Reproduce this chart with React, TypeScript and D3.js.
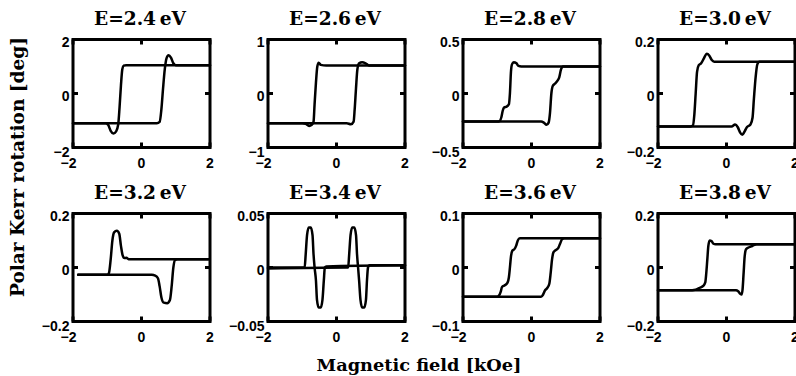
import React from 'react';
import * as d3 from 'd3';

// photon energies of the eight panels (row by row)
const energies = ["2.4", "2.6", "2.8", "3.0", "3.2", "3.4", "3.6", "3.8"];
// y axis limit (symmetric) for each panel
const yLimits = [2, 1, 0.5, 0.2, 0.2, 0.05, 0.1, 0.2];
const xTicks = [-2, 0, 2];

// each loop: branch swept from +2 down to -2 ("down") and from -2 up to +2 ("up")
// points are [field kOe, rotation deg], sorted by field
const e24Down = [[-2, -1.1], [-1.05, -1.1], [-0.97, -1.17], [-0.9, -1.38], [-0.82, -1.48], [-0.74, -1.4], [-0.68, -1.15], [-0.64, -0.5], [-0.6, 0.3], [-0.56, 0.9], [-0.52, 1.03], [-0.45, 1.05], [2, 1.05]];
const e24Up = [[-2, -1.1], [0.45, -1.1], [0.53, -1.05], [0.58, -0.6], [0.63, 0.2], [0.68, 0.9], [0.73, 1.3], [0.79, 1.42], [0.86, 1.33], [0.93, 1.12], [1.0, 1.05], [2, 1.05]];

const e26Down = [[-2, -0.55], [-1.0, -0.55], [-0.9, -0.56], [-0.8, -0.6], [-0.72, -0.58], [-0.67, -0.52], [-0.64, -0.2], [-0.6, 0.2], [-0.56, 0.5], [-0.52, 0.57], [-0.46, 0.53], [-0.3, 0.52], [2, 0.52]];
const e26Up = [[-2, -0.55], [0.3, -0.55], [0.42, -0.57], [0.5, -0.52], [0.53, -0.3], [0.57, 0.1], [0.61, 0.45], [0.66, 0.56], [0.75, 0.58], [0.85, 0.56], [0.95, 0.52], [2, 0.52]];

const e28Down = [[-2, -0.26], [-1.0, -0.26], [-0.93, -0.255], [-0.88, -0.22], [-0.84, -0.16], [-0.8, -0.13], [-0.72, -0.12], [-0.66, -0.1], [-0.63, 0.0], [-0.6, 0.2], [-0.57, 0.27], [-0.52, 0.29], [-0.44, 0.28], [-0.38, 0.255], [-0.3, 0.25], [2, 0.25]];
const e28Up = [[-2, -0.26], [0.28, -0.26], [0.36, -0.27], [0.44, -0.29], [0.5, -0.27], [0.54, -0.18], [0.58, 0.0], [0.62, 0.07], [0.68, 0.09], [0.76, 0.12], [0.81, 0.15], [0.86, 0.22], [0.92, 0.25], [2, 0.25]];

const e30Down = [[-2, -0.122], [-1.05, -0.122], [-0.98, -0.118], [-0.94, -0.08], [-0.9, 0.0], [-0.86, 0.08], [-0.81, 0.105], [-0.74, 0.112], [-0.66, 0.13], [-0.58, 0.147], [-0.5, 0.14], [-0.43, 0.124], [-0.36, 0.118], [2, 0.118]];
const e30Up = [[-2, -0.122], [0.15, -0.122], [0.25, -0.115], [0.33, -0.125], [0.4, -0.145], [0.46, -0.153], [0.53, -0.14], [0.6, -0.124], [0.7, -0.115], [0.76, -0.09], [0.8, -0.02], [0.85, 0.06], [0.9, 0.108], [0.96, 0.118], [2, 0.118]];

const e32Down = [[-1.85, -0.027], [-1.0, -0.027], [-0.95, -0.02], [-0.9, 0.03], [-0.85, 0.1], [-0.8, 0.13], [-0.72, 0.136], [-0.65, 0.125], [-0.6, 0.08], [-0.55, 0.045], [-0.5, 0.035], [-0.44, 0.036], [-0.38, 0.031], [1.95, 0.031]];
const e32Up = [[-1.85, -0.027], [0.3, -0.027], [0.4, -0.03], [0.48, -0.04], [0.53, -0.07], [0.58, -0.11], [0.65, -0.13], [0.75, -0.132], [0.83, -0.12], [0.88, -0.07], [0.93, 0.0], [0.98, 0.028], [1.05, 0.031], [1.95, 0.031]];

const e34Down = [[-2, 0.0], [-1.0, 0.0], [-0.93, 0.0], [-0.9, 0.012], [-0.86, 0.03], [-0.81, 0.037], [-0.75, 0.037], [-0.7, 0.03], [-0.67, 0.012], [-0.64, 0.0], [-0.6, -0.012], [-0.57, -0.03], [-0.52, -0.037], [-0.46, -0.037], [-0.41, -0.03], [-0.37, -0.012], [-0.34, 0.0], [-0.3, 0.001], [2, 0.002]];
const e34Up = [[-2, -0.001], [0.3, 0.0], [0.34, 0.0], [0.37, 0.012], [0.41, 0.03], [0.46, 0.037], [0.52, 0.037], [0.57, 0.03], [0.6, 0.012], [0.63, 0.0], [0.66, -0.012], [0.7, -0.03], [0.75, -0.037], [0.81, -0.037], [0.86, -0.03], [0.89, -0.012], [0.92, 0.0], [0.96, 0.002], [2, 0.002]];

const e36Down = [[-2, -0.054], [-1.0, -0.054], [-0.95, -0.052], [-0.9, -0.045], [-0.86, -0.036], [-0.78, -0.033], [-0.7, -0.028], [-0.66, -0.018], [-0.63, 0.0], [-0.6, 0.02], [-0.56, 0.031], [-0.5, 0.034], [-0.45, 0.04], [-0.4, 0.05], [-0.34, 0.054], [2, 0.054]];
const e36Up = [[-2, -0.054], [0.28, -0.054], [0.34, -0.05], [0.39, -0.043], [0.46, -0.038], [0.52, -0.03], [0.56, -0.01], [0.6, 0.015], [0.64, 0.028], [0.7, 0.032], [0.78, 0.036], [0.84, 0.045], [0.9, 0.053], [0.96, 0.054], [2, 0.054]];

const e38Down = [[-2, -0.084], [-1.0, -0.084], [-0.9, -0.082], [-0.78, -0.075], [-0.68, -0.068], [-0.62, -0.055], [-0.59, -0.02], [-0.56, 0.03], [-0.53, 0.08], [-0.49, 0.1], [-0.44, 0.098], [-0.38, 0.088], [-0.32, 0.086], [2, 0.086]];
const e38Up = [[-2, -0.084], [0.28, -0.084], [0.34, -0.088], [0.4, -0.097], [0.44, -0.1], [0.47, -0.08], [0.5, -0.02], [0.53, 0.04], [0.57, 0.068], [0.64, 0.074], [0.72, 0.078], [0.8, 0.083], [0.88, 0.086], [2, 0.086]];

const loops = [
  [e24Down, e24Up], [e26Down, e26Up], [e28Down, e28Up], [e30Down, e30Up],
  [e32Down, e32Up], [e34Down, e34Up], [e36Down, e36Up], [e38Down, e38Up],
];

const W = 796;
const H = 376;
const colLeft = [73, 268, 463, 658];
const rowTop = [39.5, 213.5];
const pw = 137;
const ph = 108;

const tickFont = "'Liberation Sans', Arial, sans-serif";
const serif = "'DejaVu Serif', serif";
const fmt = d3.format("~g");

function Panel({ i }: { i: number }) {
  const left = colLeft[i % 4];
  const top = rowTop[Math.floor(i / 4)];
  const lim = yLimits[i];
  const x = d3.scaleLinear().domain([-2, 2]).range([left, left + pw]);
  const y = d3.scaleLinear().domain([-lim, lim]).range([top + ph, top]);
  const line = d3.line<number[]>()
    .x(d => x(d[0]))
    .y(d => y(d[1]))
    .curve(d3.curveMonotoneX);
  const yTicks = [lim, 0, -lim];
  const yOff = [7.5, 7, 9];

  return (
    <g>
      <text x={x(0) - 1.5} y={top - 14.5} textAnchor="middle" fontFamily={serif}
        fontWeight="bold" fontSize={18} textLength={92} lengthAdjust="spacingAndGlyphs">
        {`E=${energies[i]}\u2009eV`}
      </text>
      {loops[i].map((b, k) => (
        <path key={k} d={line(b as number[][]) || ""} fill="none" stroke="#000"
          strokeWidth={2.5} strokeLinejoin="round" strokeLinecap="round" />
      ))}
      <rect x={left} y={top} width={pw} height={ph} fill="none" stroke="#000" strokeWidth={3} />
      {/* inward ticks */}
      {xTicks.map(t => (
        <g key={'xt' + t}>
          <line x1={x(t)} x2={x(t)} y1={top} y2={top + 5} stroke="#000" strokeWidth={3} />
          <line x1={x(t)} x2={x(t)} y1={top + ph} y2={top + ph - 5} stroke="#000" strokeWidth={3} />
        </g>
      ))}
      {yTicks.map(t => (
        <g key={'yt' + t}>
          <line x1={left} x2={left + 5} y1={y(t)} y2={y(t)} stroke="#000" strokeWidth={3} />
          <line x1={left + pw} x2={left + pw - 5} y1={y(t)} y2={y(t)} stroke="#000" strokeWidth={3} />
        </g>
      ))}
      {xTicks.map(t => (
        <text key={'xl' + t} x={t < 0 ? x(t) + 3.5 : x(t)} y={top + ph + 20}
          textAnchor={t < 0 ? "end" : "middle"} fontFamily={tickFont} fontWeight="bold" fontSize={14}>
          {fmt(t)}
        </text>
      ))}
      {yTicks.map((t, k) => (
        <text key={'yl' + t} x={left - 3.5} y={y(t) + yOff[k]} textAnchor="end"
          fontFamily={tickFont} fontWeight="bold" fontSize={14}>
          {fmt(t)}
        </text>
      ))}
    </g>
  );
}

export default function App() {
  return (
    <svg width={W} height={H} viewBox={`0 0 ${W} ${H}`}
      style={{ position: 'absolute', left: 0, top: 0, background: '#fff' }}>
      <rect width={W} height={H} fill="#fff" />
      {energies.map((e, i) => <Panel key={e} i={i} />)}
      <text transform="translate(24,167) rotate(-90)" textAnchor="middle" fontFamily={serif}
        fontWeight="bold" fontSize={18} textLength={260} lengthAdjust="spacingAndGlyphs">
        Polar Kerr rotation [deg]
      </text>
      <text x={419} y={371} textAnchor="middle" fontFamily={serif} fontWeight="bold"
        fontSize={17.5} textLength={205} lengthAdjust="spacingAndGlyphs">
        Magnetic field [kOe]
      </text>
    </svg>
  );
}
